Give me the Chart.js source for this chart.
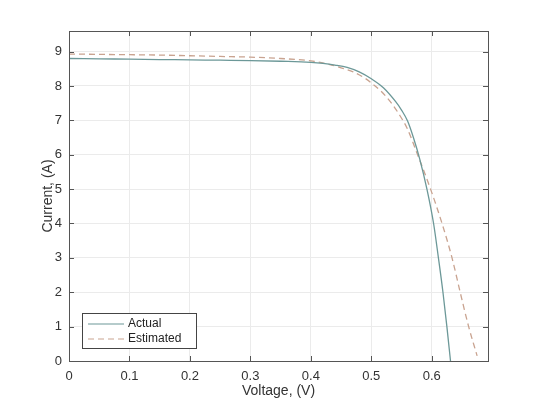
<!DOCTYPE html>
<html>
<head>
<meta charset="utf-8">
<script src="https://cdn.jsdelivr.net/npm/chart.js@4.4.0/dist/chart.umd.min.js"></script>
<style>
  body { margin: 0; background: #fff; }
  canvas { display: block; }
</style>
</head>
<body>
<canvas id="IV" width="540" height="405"></canvas>
<script>
// values
const ActualV = [0, 0.05, 0.1, 0.15, 0.2, 0.25, 0.3, 0.35, 0.4, 0.42, 0.44, 0.46, 0.48, 0.5, 0.52, 0.54, 0.55, 0.56, 0.57, 0.58, 0.592, 0.603, 0.611, 0.6185, 0.625, 0.631];
const ActualI = [8.80, 8.79, 8.78, 8.77, 8.76, 8.75, 8.74, 8.72, 8.69, 8.66, 8.61, 8.54, 8.41, 8.21, 7.95, 7.55, 7.30, 6.98, 6.48, 5.88, 5.0, 4.0, 3.0, 2.0, 1.0, 0];
const EstimatedV = [0, 0.05, 0.1, 0.15, 0.2, 0.25, 0.3, 0.35, 0.4, 0.43, 0.45, 0.47, 0.49, 0.5, 0.516, 0.533, 0.548, 0.559, 0.5755, 0.598, 0.617, 0.6335, 0.647, 0.661, 0.675];
const EstimatedI = [8.93, 8.92, 8.91, 8.90, 8.88, 8.86, 8.84, 8.80, 8.73, 8.63, 8.53, 8.41, 8.22, 8.09, 7.85, 7.51, 7.12, 6.78, 6.05, 5.0, 4.0, 3.0, 2.0, 1.0, 0.15];
const SeriesNames = ["Actual", "Estimated"];
const XTicks = [0, 0.1, 0.2, 0.3, 0.4, 0.5, 0.6];
const YTicks = [0, 1, 2, 3, 4, 5, 6, 7, 8, 9];

const ActualColor = "#6c9898";
const EstimatedColor = "#c9a390";

function pts(xs, ys) {
  return xs.map((x, i) => ({ x: x, y: ys[i] }));
}

// box round the axes plus inward ticks, like the original figure
const boxPlugin = {
  id: "box",
  afterDraw(chart) {
    const { ctx, chartArea: a, scales } = chart;
    ctx.save();
    ctx.strokeStyle = "#555";
    ctx.lineWidth = 1;
    ctx.beginPath();
    XTicks.forEach(v => {
      const px = Math.round(scales.x.getPixelForValue(v)) + 0.5;
      ctx.moveTo(px, a.bottom); ctx.lineTo(px, a.bottom - 5);
      ctx.moveTo(px, a.top); ctx.lineTo(px, a.top + 5);
    });
    YTicks.forEach(v => {
      const py = Math.round(scales.y.getPixelForValue(v)) + 0.5;
      ctx.moveTo(a.left, py); ctx.lineTo(a.left + 5, py);
      ctx.moveTo(a.right, py); ctx.lineTo(a.right - 5, py);
    });
    ctx.stroke();
    ctx.strokeRect(Math.round(a.left) + 0.5, Math.round(a.top) + 0.5, Math.round(a.right - a.left), Math.round(a.bottom - a.top));

    // legend in the lower left corner of the axes
    const lx = a.left + 13, ly = a.bottom - 48, lw = 114, lh = 35;
    ctx.fillStyle = "#fff";
    ctx.fillRect(lx, ly, lw, lh);
    ctx.strokeStyle = "#444";
    ctx.strokeRect(lx + 0.5, ly + 0.5, lw, lh);
    ctx.font = "12px 'Liberation Sans', Arial, sans-serif";
    ctx.fillStyle = "#222";
    ctx.textBaseline = "middle";
    const colors = [ActualColor, EstimatedColor];
    SeriesNames.forEach((name, i) => {
      const y = ly + 11 + i * 15;
      ctx.strokeStyle = colors[i];
      ctx.lineWidth = 1.2;
      ctx.setLineDash(i === 1 ? [6, 4] : []);
      ctx.beginPath();
      ctx.moveTo(lx + 6, y); ctx.lineTo(lx + 42, y);
      ctx.stroke();
      ctx.setLineDash([]);
      ctx.fillText(name, lx + 46, y);
    });
    ctx.restore();
  }
};

const ctx = document.getElementById("IV").getContext("2d");
const IVChart = new Chart(ctx, {
  type: "line",
  data: {
    datasets: [
      {
        label: SeriesNames[0],
        data: pts(ActualV, ActualI),
        borderColor: ActualColor,
        borderWidth: 1.3,
        pointRadius: 0,
        fill: false,
        cubicInterpolationMode: "monotone"
      },
      {
        label: SeriesNames[1],
        data: pts(EstimatedV, EstimatedI),
        borderColor: EstimatedColor,
        borderWidth: 1.3,
        borderDash: [6, 4],
        pointRadius: 0,
        fill: false,
        cubicInterpolationMode: "monotone"
      }
    ]
  },
  options: {
    responsive: false,
    animation: false,
    layout: { padding: { top: 31, right: 52, left: 0, bottom: 0 } },
    plugins: {
      legend: { display: false },
      tooltip: { enabled: false }
    },
    scales: {
      x: {
        type: "linear",
        min: 0,
        max: 0.693,
        afterBuildTicks: s => { s.ticks = XTicks.map(v => ({ value: v })); },
        afterFit: s => { s.height = 44; },
        grid: { color: "#ebebeb", drawTicks: false },
        border: { display: false },
        ticks: {
          padding: 8,
          color: "#333",
          font: { family: "'Liberation Sans', Arial, sans-serif", size: 13 },
          callback: v => String(v)
        },
        title: {
          display: true,
          text: "Voltage, (V)",
          color: "#333",
          padding: { top: 0, bottom: 5 },
          font: { family: "'Liberation Sans', Arial, sans-serif", size: 14 }
        }
      },
      y: {
        min: 0,
        max: 9.6,
        afterBuildTicks: s => { s.ticks = YTicks.map(v => ({ value: v })); },
        afterFit: s => { s.width = 69; },
        grid: { color: "#ebebeb", drawTicks: false },
        border: { display: false },
        ticks: {
          padding: 7,
          color: "#333",
          font: { family: "'Liberation Sans', Arial, sans-serif", size: 13 }
        },
        title: {
          display: true,
          text: "Current, (A)",
          color: "#333",
          padding: { top: 40, bottom: 0 },
          font: { family: "'Liberation Sans', Arial, sans-serif", size: 14 }
        }
      }
    }
  },
  plugins: [boxPlugin]
});
</script>
</body>
</html>
